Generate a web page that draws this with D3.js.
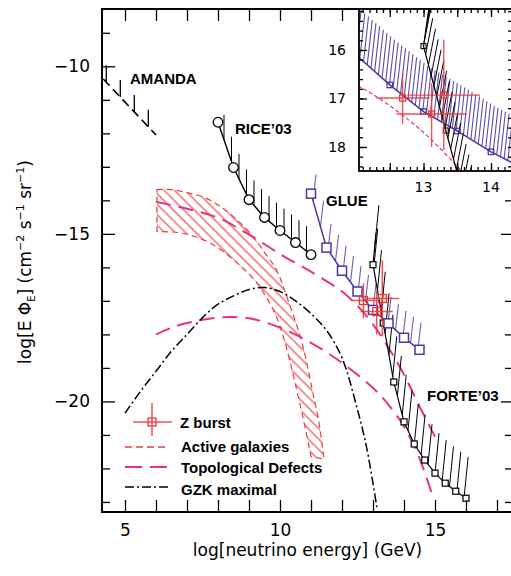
<!DOCTYPE html>
<html>
<head>
<meta charset="utf-8">
<script src="https://cdn.jsdelivr.net/npm/d3@7"></script>
<style>
  body { margin: 0; background: #fff; }
  svg text { font-family: "DejaVu Sans", sans-serif; }
  .lbl { font-family: "Liberation Sans", Arial, sans-serif; font-weight: bold; font-size: 15px; }
</style>
</head>
<body>
<svg id="chart" width="511" height="576"></svg>
<script>
// ---- data (log10 units) ----
const amandaX = [4.3, 6.0];
const amandaY = [-10.38, -12.05];

const riceX = [8, 8.5, 9, 9.5, 10, 10.5, 11];
const riceY = [-11.67, -13.02, -13.98, -14.51, -14.9, -15.26, -15.62];

const glueX = [11, 11.5, 12, 12.5, 13, 13.5, 14, 14.5];
const glueY = [-13.8, -15.41, -16.1, -16.72, -17.27, -17.67, -18.1, -18.46];

// first FORTE point is the open end of the curve (no marker)
const forteX = [13.1, 13, 13.33, 13.67, 14, 14.33, 14.67, 15, 15.33, 15.67, 16];
const forteY = [-14.96, -15.92, -17.66, -19.42, -20.61, -21.27, -21.75, -22.14, -22.44, -22.68, -22.89];

const zbX = [12.69, 13.12, 13.30];
const zbY = [-16.99, -17.32, -16.93];
const zbXlo = [12.30, 12.60, 12.76];
const zbXhi = [13.09, 13.64, 13.84];
const zbYlo = [-17.52, -18.0, -18.06];
const zbYhi = [-16.48, -16.69, -15.79];

const agUpperX = [6.03, 6.5, 7.0, 7.6, 8.1, 8.6, 9.1, 9.5, 9.9, 10.15, 10.4, 10.65, 10.85, 11.05, 11.25, 11.42];
const agUpperY = [-13.68, -13.68, -13.77, -13.93, -14.2, -14.57, -15.05, -15.55, -16.1, -16.7, -17.35, -18.05, -18.8, -19.7, -20.6, -21.72];
const agLowerX = [6.03, 6.7, 7.25, 7.8, 8.3, 8.75, 9.2, 9.55, 9.85, 10.1, 10.32, 10.55, 10.77, 11.0];
const agLowerY = [-14.93, -14.96, -15.08, -15.3, -15.62, -15.98, -16.4, -16.88, -17.4, -18.05, -18.8, -19.7, -20.6, -21.65];

const tdUpperX = [6, 7, 8, 9, 10, 11, 12, 12.5, 13, 13.5, 14, 14.5, 15];
const tdUpperY = [-14.04, -14.25, -14.52, -15.02, -15.6, -16.13, -16.72, -17.15, -17.7, -18.4, -19.2, -20.15, -21.05];
const tdLowerX = [6, 6.5, 7, 8, 9, 10, 11, 12, 13, 13.5, 14, 14.5, 14.95];
const tdLowerY = [-18.0, -17.8, -17.66, -17.5, -17.52, -17.8, -18.25, -18.85, -19.6, -20.1, -20.75, -21.7, -22.9];

const gzkX = [5, 5.5, 6, 6.5, 7, 7.5, 8, 8.5, 9, 9.5, 10, 10.5, 11, 11.5, 12, 12.5, 12.8, 13.13];
const gzkY = [-20.35, -19.7, -19.1, -18.5, -18.0, -17.5, -17.1, -16.85, -16.66, -16.6, -16.72, -17.0, -17.38, -17.88, -18.7, -20.25, -21.4, -23.2];

const xTickLabels = [5, 10, 15];
const yTickLabels = [-10, -15, -20];
const insetXLabels = [13, 14];
const insetYLabels = [-16, -17, -18];

const legendNames = ["Z burst", "Active galaxies", "Topological Defects", "GZK maximal"];

// ---- colours ----
const RED = "#ee3535", AG = "#ec3b3f", TD = "#e6308a", PURPLE = "#4a3a9c", PURPLE_H = "#6c62b4";

// ---- layout ----
const L = 102, R = 513, T = 9, B = 512;
const x = d3.scaleLinear().domain([4.258, 17.516]).range([L, R]);
const y = d3.scaleLinear().domain([-23.3, -8.29]).range([B, T]);

const IL = 359, IT = 9, IB = 171;
const xi = d3.scaleLinear().domain([12.044, 14.326]).range([IL, R]);
const yi = d3.scaleLinear().domain([-18.495, -15.155]).range([IB, IT]);

const svg = d3.select("#chart");
const defs = svg.append("defs");
defs.append("clipPath").attr("id", "clipMain").append("rect")
  .attr("x", L).attr("y", T).attr("width", R - L).attr("height", B - T);
defs.append("clipPath").attr("id", "clipInset").append("rect")
  .attr("x", IL).attr("y", IT).attr("width", R - IL).attr("height", IB - IT);
const pat = defs.append("pattern").attr("id", "agHatch")
  .attr("patternUnits", "userSpaceOnUse").attr("width", 7.4).attr("height", 7.4)
  .attr("patternTransform", "rotate(-45)");
pat.append("line").attr("x1", 3.7).attr("y1", 0).attr("x2", 3.7).attr("y2", 7.4)
  .attr("stroke", AG).attr("stroke-width", 1.1);

function pts(xs, ys, sx, sy) { return xs.map((v, i) => [sx(v), sy(ys[i])]); }

// positions at regular spacing along a polyline (hatch decoration);
// k weights the vertical part of the distance (0 = spacing along x only)
function along(p, step, start, k) {
  const out = [];
  let next = start, acc = 0;
  for (let i = 0; i < p.length - 1; i++) {
    const [x0, y0] = p[i], [x1, y1] = p[i + 1];
    const len = Math.hypot(x1 - x0, k * (y1 - y0));
    if (len === 0) continue;
    while (next <= acc + len) {
      const t = (next - acc) / len;
      out.push([x0 + t * (x1 - x0), y0 + t * (y1 - y0)]);
      next += step;
    }
    acc += len;
  }
  return out;
}

function hatch(g, p, step, start, k, dx, dy, color, w) {
  g.append("g").selectAll("line").data(along(p, step, start, k)).join("line")
    .attr("x1", d => d[0]).attr("y1", d => d[1])
    .attr("x2", d => d[0] + dx).attr("y2", d => d[1] + dy)
    .attr("stroke", color).attr("stroke-width", w);
}

const lin = d3.line();
const smooth = d3.line().curve(d3.curveCatmullRom.alpha(0.5));

function squares(g, p, size, color, fill, w) {
  g.append("g").selectAll("rect").data(p).join("rect")
    .attr("x", d => d[0] - size / 2).attr("y", d => d[1] - size / 2)
    .attr("width", size).attr("height", size)
    .attr("fill", fill).attr("stroke", color).attr("stroke-width", w);
}

function zburst(g, sx, sy, size, w) {
  zbX.forEach((v, i) => {
    g.append("line").attr("x1", sx(zbXlo[i])).attr("x2", sx(zbXhi[i]))
      .attr("y1", sy(zbY[i])).attr("y2", sy(zbY[i]))
      .attr("stroke", RED).attr("stroke-width", w).attr("opacity", 0.85);
    g.append("line").attr("x1", sx(v)).attr("x2", sx(v))
      .attr("y1", sy(zbYlo[i])).attr("y2", sy(zbYhi[i]))
      .attr("stroke", RED).attr("stroke-width", w).attr("opacity", 0.85);
  });
  squares(g, pts(zbX, zbY, sx, sy), size, RED, "none", 1.3);
}

// ================= main panel =================
const plot = svg.append("g").attr("clip-path", "url(#clipMain)");

// active galaxies band
const agUp = pts(agUpperX, agUpperY, x, y);
const agLo = pts(agLowerX, agLowerY, x, y).reverse();
plot.append("path")
  .attr("d", smooth(agUp) + smooth(agLo).replace(/^M/, "L") + "Z")
  .attr("fill", "url(#agHatch)").attr("stroke", AG).attr("stroke-width", 1.2)
  .attr("stroke-dasharray", "6,4");

// topological defects
[[tdUpperX, tdUpperY], [tdLowerX, tdLowerY]].forEach(([xs, ys]) => {
  plot.append("path").attr("d", smooth(pts(xs, ys, x, y)))
    .attr("fill", "none").attr("stroke", TD).attr("stroke-width", 2)
    .attr("stroke-dasharray", "15,8");
});

// GZK maximal
plot.append("path").attr("d", smooth(pts(gzkX, gzkY, x, y)))
  .attr("fill", "none").attr("stroke", "#000").attr("stroke-width", 1.5)
  .attr("stroke-dasharray", "9,3,2,3");

// AMANDA
const amP = pts(amandaX, amandaY, x, y);
hatch(plot, amP, 14, 3, 0, 0, -17, "#000", 1.3);
plot.append("path").attr("d", lin(amP)).attr("fill", "none")
  .attr("stroke", "#000").attr("stroke-width", 1.6).attr("stroke-dasharray", "9,5");

// RICE'03
const riceP = pts(riceX, riceY, x, y);
hatch(plot, riceP, 7.5, 6, 0, 0, -25, "#000", 1);
plot.append("path").attr("d", lin(riceP)).attr("fill", "none")
  .attr("stroke", "#000").attr("stroke-width", 1.4);
plot.append("g").selectAll("circle").data(riceP).join("circle")
  .attr("cx", d => d[0]).attr("cy", d => d[1]).attr("r", 4.8)
  .attr("fill", "#fff").attr("stroke", "#000").attr("stroke-width", 1.3);

// GLUE
const glueP = pts(glueX, glueY, x, y);
hatch(plot, glueP, 7.5, 2, 0, 3, -26, PURPLE_H, 1.1);
plot.append("path").attr("d", lin(glueP)).attr("fill", "none")
  .attr("stroke", PURPLE).attr("stroke-width", 1.5);

// FORTE'03
const forteP = pts(forteX, forteY, x, y);
hatch(plot, forteP, 7.5, 4, 0.3, 4, -40, "#000", 1);
plot.append("path").attr("d", lin(forteP)).attr("fill", "none")
  .attr("stroke", "#000").attr("stroke-width", 1.2);
squares(plot, forteP.slice(1), 6, "#000", "#fff", 1.2);
squares(plot, glueP, 9, PURPLE, "#fff", 1.5);

// Z burst
zburst(plot, x, y, 8, 1.5);

// labels
svg.append("text").attr("class", "lbl").attr("x", 130).attr("y", 84).text("AMANDA");
svg.append("text").attr("class", "lbl").attr("x", 235).attr("y", 134).text("RICE’03");
svg.append("text").attr("class", "lbl").attr("x", 326).attr("y", 206).text("GLUE");
svg.append("text").attr("class", "lbl").attr("x", 427).attr("y", 401).text("FORTE’03");

// main axes (ticks inward)
function clean(g) { g.select(".domain").remove(); g.selectAll("line").attr("stroke-width", 1.3); }
const xTicks = d3.range(5, 18);
const yTicks = d3.range(-23, -8);
const yMinor = yTicks.filter(v => !yTickLabels.includes(v));

svg.append("g").attr("transform", `translate(0,${B})`)
  .call(d3.axisBottom(x).tickValues(xTicks).tickSize(-12).tickPadding(12)
    .tickFormat(d => xTickLabels.includes(d) ? d : ""))
  .call(clean)
  .call(g => g.selectAll("text").attr("font-size", 17).attr("font-family", "DejaVu Sans").attr("fill", "#000"));
svg.append("g").attr("transform", `translate(0,${T})`)
  .call(d3.axisTop(x).tickValues(xTicks).tickSize(-12).tickFormat("")).call(clean);

svg.append("g").attr("transform", `translate(${L},0)`)
  .call(d3.axisLeft(y).tickValues(yMinor).tickSize(-8).tickFormat("")).call(clean);
svg.append("g").attr("transform", `translate(${L},0)`)
  .call(d3.axisLeft(y).tickValues(yTickLabels).tickSize(-13).tickPadding(12)
    .tickFormat(d => "\u2212" + Math.abs(d)))
  .call(clean)
  .call(g => g.selectAll("text").attr("font-size", 17).attr("font-family", "DejaVu Sans").attr("fill", "#000"));
svg.append("g").attr("transform", `translate(${R},0)`)
  .call(d3.axisRight(y).tickValues(yMinor).tickSize(-8).tickFormat("")).call(clean);
svg.append("g").attr("transform", `translate(${R},0)`)
  .call(d3.axisRight(y).tickValues(yTickLabels).tickSize(-12).tickFormat("")).call(clean);

svg.append("rect").attr("x", L).attr("y", T).attr("width", R - L).attr("height", B - T)
  .attr("fill", "none").attr("stroke", "#000").attr("stroke-width", 2);

// ================= inset =================
svg.append("rect").attr("x", IL).attr("y", IT).attr("width", R - IL).attr("height", IB - IT)
  .attr("fill", "#fff");
const ins = svg.append("g").attr("clip-path", "url(#clipInset)");

ins.append("path").attr("d", smooth(pts(tdUpperX, tdUpperY, xi, yi)))
  .attr("fill", "none").attr("stroke", TD).attr("stroke-width", 1.2)
  .attr("stroke-dasharray", "4,2.5");

const glueI = pts(glueX, glueY, xi, yi);
hatch(ins, glueI, 3.7, 1, 0, 5, -45, "#5b4ea8", 1.1);
ins.append("path").attr("d", lin(glueI)).attr("fill", "none")
  .attr("stroke", PURPLE).attr("stroke-width", 1.5);

const forteI = pts(forteX, forteY, xi, yi);
hatch(ins, forteI, 4.2, 2, 0.3, 7, -36, "#000", 1);
ins.append("path").attr("d", lin(forteI)).attr("fill", "none")
  .attr("stroke", "#000").attr("stroke-width", 1.2);
squares(ins, forteI.slice(1), 5, "#000", "none", 1.1);
squares(ins, glueI, 5.5, PURPLE, "none", 1.3);

zburst(ins, xi, yi, 6, 1.4);

// inset ticks
const xiMinor = d3.range(121, 144).map(v => v / 10);
const xiMajor = [12.5, 13, 13.5, 14];
const yiMinor = d3.range(-92, -75).map(v => v / 5);
svg.append("g").attr("transform", `translate(0,${IB})`)
  .call(d3.axisBottom(xi).tickValues(xiMinor).tickSize(-4).tickFormat("")).call(clean);
svg.append("g").attr("transform", `translate(0,${IB})`)
  .call(d3.axisBottom(xi).tickValues(xiMajor).tickSize(-8).tickFormat("")).call(clean);
svg.append("g").attr("transform", `translate(0,${IT})`)
  .call(d3.axisTop(xi).tickValues(xiMinor).tickSize(-4).tickFormat("")).call(clean);
svg.append("g").attr("transform", `translate(0,${IT})`)
  .call(d3.axisTop(xi).tickValues(xiMajor).tickSize(-8).tickFormat("")).call(clean);
svg.append("g").attr("transform", `translate(${IL},0)`)
  .call(d3.axisLeft(yi).tickValues(yiMinor).tickSize(-4).tickFormat("")).call(clean);
svg.append("g").attr("transform", `translate(${IL},0)`)
  .call(d3.axisLeft(yi).tickValues(insetYLabels).tickSize(-8).tickFormat("")).call(clean);
svg.append("g").attr("transform", `translate(${R},0)`)
  .call(d3.axisRight(yi).tickValues(yiMinor).tickSize(-5).tickFormat("")).call(clean);

svg.append("rect").attr("x", IL).attr("y", IT).attr("width", R - IL).attr("height", IB - IT)
  .attr("fill", "none").attr("stroke", "#000").attr("stroke-width", 1.8);

svg.append("g").selectAll("text").data(insetXLabels).join("text")
  .attr("x", d => xi(d)).attr("y", 192).attr("text-anchor", "middle")
  .attr("font-size", 14).text(d => d);
svg.append("g").selectAll("text").data(insetYLabels).join("text")
  .attr("x", 346).attr("y", d => yi(d)).attr("text-anchor", "end")
  .attr("dominant-baseline", "central").attr("font-size", 14).text(d => Math.abs(d));

// ================= legend =================
const lg = svg.append("g");
lg.append("line").attr("x1", 133).attr("x2", 172).attr("y1", 422).attr("y2", 422)
  .attr("stroke", RED).attr("stroke-width", 1.5).attr("opacity", 0.85);
lg.append("line").attr("x1", 152).attr("x2", 152).attr("y1", 403).attr("y2", 436)
  .attr("stroke", RED).attr("stroke-width", 1.5).attr("opacity", 0.85);
lg.append("rect").attr("x", 148).attr("y", 418).attr("width", 8).attr("height", 8)
  .attr("fill", "none").attr("stroke", RED).attr("stroke-width", 1.3);
lg.append("line").attr("x1", 125).attr("x2", 168).attr("y1", 447).attr("y2", 447)
  .attr("stroke", AG).attr("stroke-width", 1.5).attr("stroke-dasharray", "7,4");
lg.append("line").attr("x1", 125).attr("x2", 168).attr("y1", 467).attr("y2", 467)
  .attr("stroke", TD).attr("stroke-width", 2).attr("stroke-dasharray", "17,8");
lg.append("line").attr("x1", 125).attr("x2", 168).attr("y1", 487).attr("y2", 487)
  .attr("stroke", "#000").attr("stroke-width", 1.5).attr("stroke-dasharray", "9,3,2,3");
const legY = [428, 452, 473, 495];
lg.selectAll("text.lbl").data(legendNames).join("text").attr("class", "lbl")
  .attr("x", (d, i) => i === 0 ? 180 : 181).attr("y", (d, i) => legY[i]).text(d => d);

// ================= axis titles =================
svg.append("text").attr("x", (L + R) / 2).attr("y", 556).attr("text-anchor", "middle")
  .attr("font-size", 17).text("log[neutrino energy] (GeV)");

const yt = svg.append("text").attr("transform", "translate(31,262) rotate(-90)")
  .attr("text-anchor", "middle").attr("font-size", 17);
yt.append("tspan").text("log[E  \u03A6");
yt.append("tspan").attr("font-size", 10).attr("dy", 4).text("E");
yt.append("tspan").attr("dy", -4).text("] (cm");
yt.append("tspan").attr("font-size", 11).attr("dy", -7).text("\u22122");
yt.append("tspan").attr("dy", 7).text(" s");
yt.append("tspan").attr("font-size", 11).attr("dy", -7).text("\u22121");
yt.append("tspan").attr("dy", 7).text(" sr");
yt.append("tspan").attr("font-size", 11).attr("dy", -7).text("\u22121");
yt.append("tspan").attr("dy", 7).text(")");
</script>
</body>
</html>
